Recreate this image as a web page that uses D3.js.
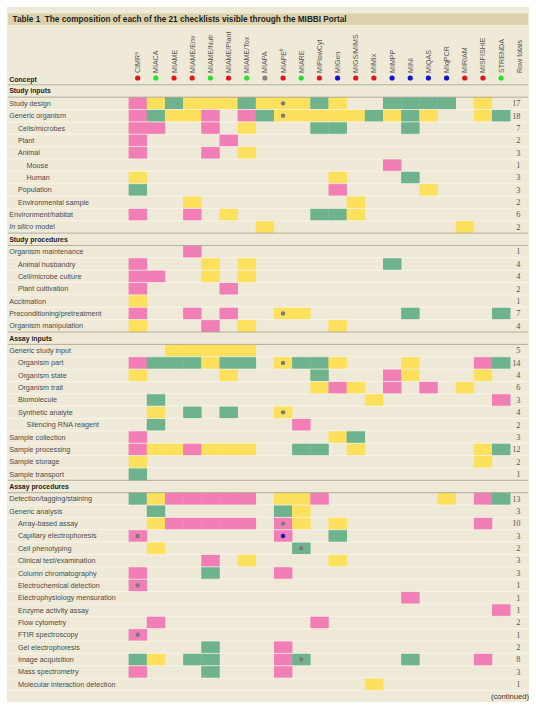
<!DOCTYPE html>
<html><head><meta charset="utf-8">
<script src="https://cdn.jsdelivr.net/npm/d3@7"></script>
<style>
html,body{margin:0;padding:0;background:#fff;}
svg{display:block;}
</style></head>
<body>
<svg id="chart" width="536" height="706"></svg>
<script>
// ---------- DATA ----------
const checklists = ["CIMR","MIACA","MIAME","MIAME/Env","MIAME/Nutr","MIAME/Plant","MIAME/Tox","MIAPA","MIAPE","MIARE","MIFlowCyt","MIGen","MIGS/MIMS","MIMIx","MIMPP","MINI","MIQAS","MIqPCR","MIRIAM","MISFISHIE","STRENDA"];
const checklistSup = {"CIMR":"a","MIAPE":"b"};
const checklistDot = ["red","green","red","red","green","red","green","grey","red","green","red","blue","red","red","blue","blue","blue","blue","red","red","green"];

const sections = ["Study inputs","Study procedures","Assay inputs","Assay procedures"];
// [section index, indent level, concept name, cells (P pink, Y yellow, G green, . empty), row total]
const concepts = [
 [0,0,"Study design",                "PYGYYYGYYYGY..GGGG.Y.",17],
 [0,0,"Generic organism",            "PGYYP.PGYYYYYGYGY..YG",18],
 [0,1,"Cells/microbes",              "PP..P.Y...GG...G.....",7],
 [0,1,"Plant",                       "P....P...............",2],
 [0,1,"Animal",                      "P...P.Y..............",3],
 [0,2,"Mouse",                       "..............P......",1],
 [0,2,"Human",                       "Y..........Y...G.....",3],
 [0,1,"Population",                  "G..........P....Y....",3],
 [0,1,"Environmental sample",        "...Y........Y........",2],
 [0,0,"Environment/habitat",         "P..P.Y....GGY........",6],
 [0,0,"In silico model",             ".......Y..........Y..",2],
 [1,0,"Organism maintenance",        "...P.................",1],
 [1,1,"Animal husbandry",            "P...Y.Y.......G......",4],
 [1,1,"Cell/microbe culture",        "PP..Y.Y..............",4],
 [1,1,"Plant cultivation",           "P....P...............",2],
 [1,0,"Acclimation",                 "Y....................",1],
 [1,0,"Preconditioning/pretreatment","P..P.P..YY.....G....G",7],
 [1,0,"Organism manipulation",       "Y...P.Y....Y.........",4],
 [2,0,"Generic study input",         "..YYYYY..............",5],
 [2,1,"Organism part",               "PGGGYGG.YGGY...Y...PG",14],
 [2,1,"Organism state",              "Y....Y....G...PY...Y.",4],
 [2,1,"Organism trait",              "..........YPY.P.P.Y..",6],
 [2,1,"Biomolecule",                 ".G...........Y......P",3],
 [2,1,"Synthetic analyte",           ".Y.G.G..Y............",4],
 [2,2,"Silencing RNA reagent",       ".G.......P...........",2],
 [2,0,"Sample collection",           "P..........YG........",3],
 [2,0,"Sample processing",           "PYYPYYY..GG.Y......YG",12],
 [2,0,"Sample storage",              "Y..................Y.",2],
 [2,0,"Sample transport",            "G....................",1],
 [3,0,"Detection/tagging/staining",  "GYPPPPP.YYP......Y.PG",13],
 [3,0,"Generic analysis",            ".G......GY...........",3],
 [3,1,"Array-based assay",           ".YPPPPP.PY.Y.......P.",10],
 [3,1,"Capillary electrophoresis",   "P.......P..G.........",3],
 [3,1,"Cell phenotyping",            ".Y.......G...........",2],
 [3,1,"Clinical test/examination",   "....P.Y....Y.........",3],
 [3,1,"Column chromatography",       "P...G...P............",3],
 [3,1,"Electrochemical detection",   "P....................",1],
 [3,1,"Electrophysiology mensuration","...............P.....",1],
 [3,1,"Enzyme activity assay",       "....................P",1],
 [3,1,"Flow cytometry",              ".P........P..........",2],
 [3,1,"FTIR spectroscopy",           "P....................",1],
 [3,1,"Gel electrophoresis",         "....G...P............",2],
 [3,1,"Image acquisition",           "GY.GG...PG.....G...P.",8],
 [3,1,"Mass spectrometry",           "P...G...P............",3],
 [3,1,"Molecular interaction detection",".............Y.......",1]
];
// marks inside cells: [concept, checklist, dot colour]
const cellMarks = [
 ["Study design","MIAPE","grey"],
 ["Generic organism","MIAPE","grey"],
 ["Preconditioning/pretreatment","MIAPE","grey"],
 ["Organism part","MIAPE","grey"],
 ["Synthetic analyte","MIAPE","grey"],
 ["Array-based assay","MIAPE","grey"],
 ["Capillary electrophoresis","CIMR","grey"],
 ["Capillary electrophoresis","MIAPE","blue"],
 ["Cell phenotyping","MIARE","grey"],
 ["Electrochemical detection","CIMR","grey"],
 ["FTIR spectroscopy","CIMR","grey"],
 ["Image acquisition","MIARE","grey"]
];
const titleText = "Table 1  The composition of each of the 21 checklists visible through the MIBBI Portal";

// ---------- STYLE ----------
const fillColor = {P:"#f17fb6", Y:"#fde05b", G:"#6eb38e"};
const dotColor = {red:"#e2141c", green:"#27e02a", grey:"#858585", blue:"#1212d6"};
const markColor = {grey:"#7d7a7a", blue:"#1010e0"};
const FONT = "'Liberation Sans',Arial,sans-serif";

const svg = d3.select("#chart");
svg.append("rect").attr("x",7).attr("y",7).attr("width",522).attr("height",695).attr("fill","#efead8");
svg.append("rect").attr("x",8).attr("y",13.5).attr("width",520).attr("height",11.3).attr("fill","#dcd3ac");
const title = svg.append("text").attr("x",12.5).attr("y",22.4).attr("font-family",FONT)
  .attr("font-weight","bold").attr("font-size",9).attr("fill","#1e1e1e").style("white-space","pre").text(titleText);
// fit title width to reference
const tl = title.node().getComputedTextLength();
title.attr("font-size", 9*335/tl);

// build row list (section headers + concepts)
const rows = [];
sections.forEach((s,si)=>{
  rows.push({type:"section", name:s, id:"S"+si});
  concepts.filter(c=>c[0]===si).forEach(c=>rows.push({type:"concept", name:c[2], level:c[1], cells:c[3], total:c[4], id:c[2], section:si}));
});

const rowH = 12.36, top0 = 84.8;
const x = d3.scaleBand().domain(checklists).range([128.6, 128.6+21*18.17]).padding(0);
const y = d3.scaleBand().domain(rows.map(r=>r.id)).range([top0, top0+rows.length*rowH]).padding(0);

// cells
const cellData = [];
rows.filter(r=>r.type==="concept").forEach(r=>{
  r.cells.split("").forEach((ch,i)=>{ if(ch!==".") cellData.push({row:r.id, col:checklists[i], c:ch}); });
});
svg.append("g").selectAll("rect").data(cellData).join("rect")
  .attr("x",d=>x(d.col)).attr("y",d=>y(d.row))
  .attr("width",x.bandwidth()+0.3).attr("height",y.bandwidth())
  .attr("fill",d=>fillColor[d.c]);

// row separator lines
const lines = svg.append("g");
rows.forEach((r,i)=>{
  const yb = y(r.id)+rowH;
  const next = rows[i+1];
  const dark = r.type==="section" || (next && next.type==="section");
  lines.append("line").attr("x1",8).attr("x2",528).attr("y1",yb).attr("y2",yb)
    .attr("stroke", dark ? "#a39e8c" : "#faf8ef").attr("stroke-width", dark?0.8:0.7);
});
lines.append("line").attr("x1",8).attr("x2",528).attr("y1",top0).attr("y2",top0)
  .attr("stroke","#a39e8c").attr("stroke-width",0.8);

// cell marks
svg.append("g").selectAll("circle").data(cellMarks).join("circle")
  .attr("cx",d=>x(d[1])+x.bandwidth()/2).attr("cy",d=>y(d[0])+rowH/2)
  .attr("r",2.2).attr("fill",d=>markColor[d[2]]);

// row labels
svg.append("g").selectAll("text").data(rows).join("text")
  .attr("x",d=>d.type==="section"?9.2:9.2+ (d.level||0)*8.7)
  .attr("y",d=>y(d.id)+rowH/2+2.5)
  .attr("font-family",FONT)
  .attr("font-size",d=>d.type==="section"?6.9:7.2)
  .attr("font-weight",d=>d.type==="section"?"bold":"normal")
  .attr("fill",d=>d.type==="section"?"#1e1e1e":"#4a4a4a")
  .each(function(d){
    const t = d3.select(this);
    if(d.name.startsWith("In silico")){
      t.append("tspan").attr("font-style","italic").text("In silico");
      t.append("tspan").text(d.name.slice(9));
    } else t.text(d.name);
  });

// row totals
svg.append("g").selectAll("text").data(rows.filter(r=>r.type==="concept")).join("text")
  .attr("x",520.5).attr("y",d=>y(d.id)+rowH/2+2.8)
  .attr("text-anchor","end").attr("font-family","'Liberation Serif','DejaVu Serif',serif")
  .attr("font-size",8.4).attr("fill","#555").text(d=>d.total);

// column headers
const hdr = svg.append("g");
hdr.selectAll("text").data(checklists).join("text")
  .attr("transform",d=>`translate(${x(d)+x.bandwidth()/2+2.5},73) rotate(-90)`)
  .attr("font-family",FONT).attr("font-size",7.1).attr("fill","#555")
  .each(function(d){
    const t=d3.select(this);
    t.append("tspan").text(d);
    if(checklistSup[d]) t.append("tspan").attr("font-size",4.6).attr("dy",-2.3).text(checklistSup[d]);
  });
hdr.append("text").attr("transform",`translate(${x("STRENDA")+x.bandwidth()*1.5+2.5},73) rotate(-90)`)
  .attr("font-family",FONT).attr("font-size",7.1).attr("fill","#555").text("Row totals");
hdr.selectAll("circle").data(checklists).join("circle")
  .attr("cx",d=>x(d)+x.bandwidth()/2).attr("cy",78)
  .attr("r",2.6).attr("fill",(d,i)=>dotColor[checklistDot[i]]);
svg.append("text").attr("x",9.2).attr("y",81.8).attr("font-family",FONT).attr("font-weight","bold")
  .attr("font-size",6.9).attr("fill","#1e1e1e").text("Concept");

svg.append("text").attr("x",529).attr("y",698.6).attr("text-anchor","end")
  .attr("font-family",FONT).attr("font-size",7.6).attr("fill","#333").text("(continued)");
</script>
</body></html>
